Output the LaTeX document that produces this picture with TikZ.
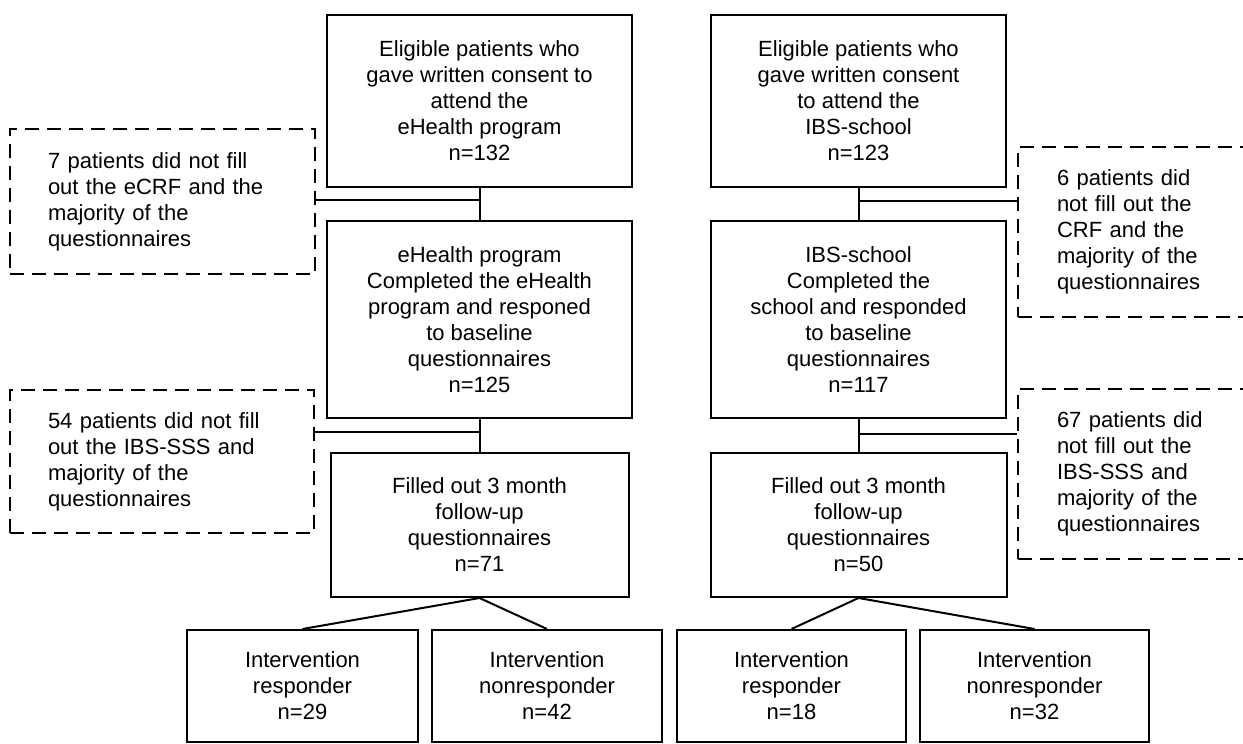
\documentclass[tikz,border=0pt]{standalone}
\usepackage{fontspec}
\setmainfont{Liberation Sans}
\begin{document}
\begin{tikzpicture}[x=1pt,y=-1pt,
  box/.style={draw, line width=2pt, align=center, inner sep=0pt,
    font=\fontsize{22}{26}\selectfont},
  dbox/.style={draw, line width=2pt, dash pattern=on 14pt off 8pt,
    align=left, inner ysep=0pt, font=\fontsize{22}{26}\selectfont},
  conn/.style={line width=2pt}]
\useasboundingbox (0,0) rectangle (1243,744);
\clip (0,0) rectangle (1243,744);

% main boxes
\node[box, minimum width=305pt, minimum height=172pt] (T1) at (479.5,101)
  {Eligible patients who\\gave written consent to\\attend the\\eHealth program\\n=132};
\node[box, minimum width=295pt, minimum height=172pt] (T2) at (858.5,101)
  {Eligible patients who\\gave written consent\\to attend the\\IBS-school\\n=123};
\node[box, minimum width=305pt, minimum height=197pt] (M1) at (479.5,319.5)
  {eHealth program\\Completed the eHealth\\program and responed\\to baseline\\questionnaires\\n=125};
\node[box, minimum width=295pt, minimum height=197pt] (M2) at (858.5,319.5)
  {IBS-school\\Completed the\\school and responded\\to baseline\\questionnaires\\n=117};
\node[box, minimum width=298pt, minimum height=144pt] (L1) at (479.5,525)
  {Filled out 3 month\\follow-up\\questionnaires\\n=71};
\node[box, minimum width=296pt, minimum height=144pt] (L2) at (858.5,525)
  {Filled out 3 month\\follow-up\\questionnaires\\n=50};

% bottom boxes
\node[box, minimum width=231pt, minimum height=112pt] (B1) at (302.5,686)
  {Intervention\\responder\\n=29};
\node[box, minimum width=230pt, minimum height=112pt] (B2) at (547,686)
  {Intervention\\nonresponder\\n=42};
\node[box, minimum width=229pt, minimum height=112pt] (B3) at (791.5,686)
  {Intervention\\responder\\n=18};
\node[box, minimum width=229pt, minimum height=112pt] (B4) at (1034.5,686)
  {Intervention\\nonresponder\\n=32};

% dashed exclusion boxes
\node[dbox, inner xsep=38pt, text width=229pt, minimum height=145pt] (D1) at (162.5,201.5)
  {7 patients did not fill\\out the eCRF and the\\majority of the\\questionnaires};
\node[dbox, inner xsep=38pt, text width=228pt, minimum height=143pt] (D2) at (162,461.5)
  {54 patients did not fill\\out the IBS-SSS and\\majority of the\\questionnaires};
\node[dbox, inner xsep=39pt, text width=164pt, minimum height=170pt] (D3) at (1139,232)
  {6 patients did\\not fill out the\\CRF and the\\majority of the\\questionnaires};
\node[dbox, inner xsep=39pt, text width=164pt, minimum height=170pt] (D4) at (1139,474)
  {67 patients did\\not fill out the\\IBS-SSS and\\majority of the\\questionnaires};

% junctions
\coordinate (j1) at (479.5,200);
\coordinate (j2) at (479.5,432);
\coordinate (j3) at (858.5,201);
\coordinate (j4) at (858.5,434);

% connectors
\draw[conn] (T1.south) -- (M1.north);
\draw[conn] (M1.south) -- (L1.north);
\draw[conn] (T2.south) -- (M2.north);
\draw[conn] (M2.south) -- (L2.north);
\draw[conn] (j1) -- (j1 -| D1.east);
\draw[conn] (j2) -- (j2 -| D2.east);
\draw[conn] (j3) -- (j3 -| D3.west);
\draw[conn] (j4) -- (j4 -| D4.west);
\draw[conn] (L1.south) -- (B1.north);
\draw[conn] (L1.south) -- (B2.north);
\draw[conn] (L2.south) -- (B3.north);
\draw[conn] (L2.south) -- (B4.north);
\end{tikzpicture}
\end{document}
